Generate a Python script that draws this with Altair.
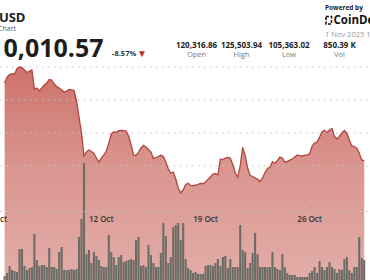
import altair as alt
import pandas as pd

# ---- data (BTC/USD, 4-hour steps, days of October) ----
price_k = [
    122.58, 123.48, 123.86, 123.94, 123.94, 124.77, 125.0, 124.92, 124.55, 124.17,
    124.39, 124.55, 121.67, 121.82, 121.36, 121.82, 122.27, 122.58, 123.11, 123.03,
    122.42, 122.05, 121.82, 121.52, 121.21, 121.36, 121.59, 121.52, 121.44, 119.85,
    117.42, 115.0, 111.52, 112.12, 112.42, 112.2, 111.89, 111.21, 110.61, 111.21,
    111.67, 112.27, 113.44, 114.85, 115.15, 115.08, 115.35, 115.38, 115.35, 115.3,
    114.55, 113.18, 111.67, 111.59, 112.12, 112.73, 113.14, 112.88, 112.5, 112.12,
    111.14, 111.29, 111.44, 111.62, 111.44, 110.61, 109.55, 108.94, 109.09, 108.03,
    106.67, 105.91, 106.36, 107.2, 107.38, 107.05, 107.02, 107.12, 107.2, 107.38,
    107.3, 107.58, 107.95, 108.33, 108.79, 108.86, 108.64, 111.06, 110.98, 111.21,
    111.29, 111.17, 110.23, 108.94, 108.33, 110.0, 112.83, 111.52, 109.7, 108.56,
    108.41, 108.21, 108.0, 107.65, 108.18, 109.02, 109.62, 109.8, 110.65, 110.38,
    110.83, 111.36, 111.21, 110.61, 110.68, 110.88, 111.06, 111.36, 111.67, 111.58,
    111.52, 111.61, 111.7, 111.82, 113.03, 113.48, 113.64, 114.39, 115.15, 115.42,
    115.05, 115.45, 115.68, 114.47, 114.09, 114.47, 115.0, 115.38, 115.0, 113.94,
    113.03, 112.95, 112.68, 111.97, 110.91, 110.83,
]
volume = [
    4, 7, 14, 10, 9, 8, 31, 31, 14, 10, 12, 13, 46, 20, 14, 15, 15, 13, 32, 13,
    13, 11, 28, 33, 10, 10, 10, 11,
    10, 11, 43, 61, 117, 26, 30, 17, 28, 24, 20, 14, 13, 13, 45,
    28, 23, 15, 23, 25, 18, 19, 20, 21, 20, 40, 43, 14, 15, 13, 35,
    25, 17, 13, 13, 27, 57, 44, 17, 23, 53, 55, 57, 40, 57,
    21, 12, 10, 7, 8, 6, 6, 6, 14, 15, 15, 14, 17, 21, 14, 23, 24, 12, 21, 13, 13, 13,
    55, 30, 28, 12, 17, 27, 47, 26, 13, 13, 13, 13,
    13, 28, 13, 11, 10, 26, 13, 7, 5, 5, 5, 3, 3, 3, 3,
    3, 7, 9, 13, 7, 19, 13, 10, 13, 18, 13, 11, 7, 11, 10, 21, 23, 10, 7, 13, 13, 43, 22, 20,
]
start_day = 5.5
days = [start_day + i / 6 for i in range(len(price_k))]

grid_k = [110, 115, 120, 125]
tick_days = [5, 12, 19, 26]
tick_labels = ["5 Oct", "12 Oct", "19 Oct", "26 Oct"]

stat_values = ["120,316.86", "125,503.94", "105,363.02", "850.39 K"]
stat_labels = ["Open", "High", "Low", "Vol"]
title_text = "BTC USD"
subtitle_text = "BTC Price Chart"
price_text = "110,010.57"
change_text = "-8.57%"
date_text = "1 Nov 2025 13:00 UTC"

W, H = 370, 280
FONT = "Open Sans"

df = pd.DataFrame({"day": days, "price": price_k, "vol": volume})

xs = alt.Scale(domain=[5.525, 29.72], nice=False, zero=False)
ys = alt.Scale(domain=[92.727, 135.152], nice=False, zero=False)
vs = alt.Scale(domain=[0, 280], nice=False, zero=True)

X = alt.X("day:Q", scale=xs, axis=None)

grad = alt.Gradient(
    gradient="linear",
    stops=[
        alt.GradientStop(color="#cd726b", offset=0),
        alt.GradientStop(color="#da958f", offset=0.12),
        alt.GradientStop(color="#e8bdb9", offset=0.35),
        alt.GradientStop(color="#f2d9d7", offset=0.6),
        alt.GradientStop(color="#f7e8e8", offset=0.85),
        alt.GradientStop(color="#f9efef", offset=1),
    ],
    x1=0, x2=0, y1=0, y2=1,
)

area = alt.Chart(df).mark_area(color=grad, clip=True).encode(
    x=X, y=alt.Y("price:Q", scale=ys, axis=None), y2=alt.value(H)
)

grid = alt.Chart(pd.DataFrame({"g": grid_k})).mark_rule(
    color="#c4c4c4", strokeDash=[1.5, 4.5], strokeWidth=1.1
).encode(y=alt.Y("g:Q", scale=ys, axis=None), x=alt.value(0), x2=alt.value(W))

line = alt.Chart(df).mark_line(color="#b3443d", strokeWidth=1.3, clip=True).encode(
    x=X, y=alt.Y("price:Q", scale=ys, axis=None)
)

bars = alt.Chart(df).mark_bar(color="#6c6c66", size=2.1, clip=True).encode(
    x=X, y=alt.Y("vol:Q", scale=vs, axis=None)
)

axis_line = alt.Chart(pd.DataFrame({"a": [0]})).mark_rule(
    color="#c0c0c0", strokeDash=[1.5, 4.5], strokeWidth=1.1
).encode(x=alt.value(0), x2=alt.value(W), y=alt.value(211.5))

tick_df = pd.DataFrame({"d": tick_days, "l": tick_labels})
tick_marks = alt.Chart(tick_df).mark_rule(color="#888", strokeWidth=1).encode(
    x=alt.X("d:Q", scale=xs, axis=None), y=alt.value(206.8), y2=alt.value(208.6)
)
tick_text = alt.Chart(tick_df).mark_text(
    font=FONT, fontSize=8, fontWeight=600, color="#333", baseline="middle"
).encode(x=alt.X("d:Q", scale=xs, axis=None), y=alt.value(219.5), text="l:N")


def label(txt, x, y, size, weight="normal", color="#222", align="left", baseline="alphabetic"):
    return alt.Chart(pd.DataFrame({"t": [txt]})).mark_text(
        font=FONT, fontSize=size, fontWeight=weight, color=color, align=align, baseline=baseline
    ).encode(x=alt.value(x), y=alt.value(y), text="t:N")


header = [
    label(title_text, 25.5, 21.5, 13, "bold", "#1d1d1d", align="right"),
    label(subtitle_text, 16, 31, 7, "normal", "#555", align="right"),
    label(price_text, 103.5, 57, 25, "bold", "#1d1d1d", align="right"),
    label(change_text, 112, 56, 7.5, "bold", "#333"),
    label("\u25BC", 142, 57, 10, "normal", "#c0342b", align="center"),
    label("Powered by", 325, 9.5, 6.5, "bold", "#222"),
    label("CoinDesk", 333.5, 24, 11.5, "bold", "#111"),
    label(date_text, 325, 37, 7.5, "normal", "#9a9a9a"),
]
stat_centers = [196.5, 241.5, 289, 339.5]
for v, l, cx in zip(stat_values, stat_labels, stat_centers):
    header.append(label(v, cx, 48, 8, "bold", "#222", align="center"))
    header.append(label(l, cx, 57, 7.5, "normal", "#777", align="center"))

logo = alt.Chart(pd.DataFrame({"a": [0]})).mark_rect(
    filled=False, stroke="#111", strokeWidth=1.6, strokeDash=[3, 1.5]
).encode(x=alt.value(326), x2=alt.value(331.5), y=alt.value(16.5), y2=alt.value(24))

chart = alt.layer(
    area, grid, line, bars, axis_line, tick_marks, tick_text, logo, *header
).resolve_scale(y="independent").properties(
    width=W, height=H, padding=0, autosize=alt.AutoSizeParams(type="none"),
    background="white",
).configure_view(stroke=None)

chart.save("out.html", embed_options={"renderer": "svg", "actions": False})
